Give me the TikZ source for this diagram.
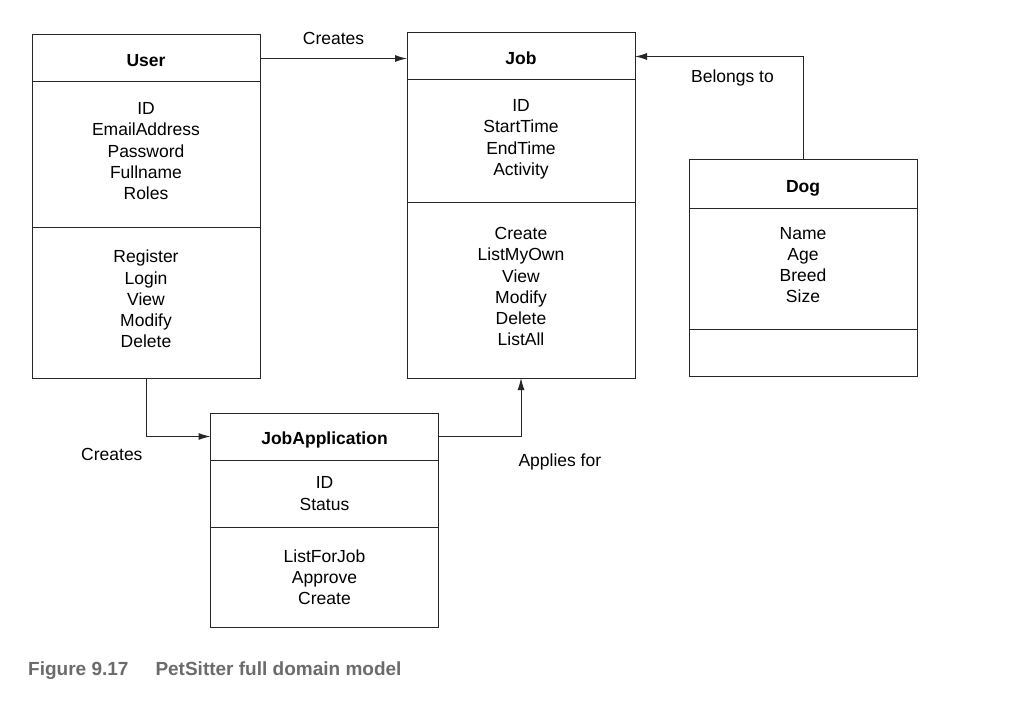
\documentclass[tikz,border=0pt]{standalone}
\usepackage{fontspec}
\setmainfont{Liberation Sans}
\usetikzlibrary{positioning,arrows.meta}
\definecolor{capgray}{HTML}{6B6B6B}
\tikzset{
	cls/.style={draw=black!85, line width=1pt, minimum width=228pt, inner sep=0pt, outer sep=0pt, align=center, text depth=7pt, font=\fontsize{17.5}{21.2}\selectfont},
	clshead/.style={cls, minimum height=47pt, text height=16pt, text depth=0pt, font=\fontsize{17.5}{21}\selectfont\bfseries},
	link/.style={draw=black!85, line width=1pt, -{Latex[length=12pt,width=7pt]}},
	lbl/.style={inner sep=0pt, font=\fontsize{17.5}{21}\selectfont}
}
\begin{document}
\begin{tikzpicture}[x=1pt,y=1pt]
	\useasboundingbox (0,0) rectangle (1016,-722);
	\node[clshead] (user) at (146,-58.5) {User};
	\node[cls, minimum height=145pt, below=0pt of user] (userattr) {ID\\EmailAddress\\Password\\Fullname\\Roles};
	\node[cls, minimum height=151pt, below=0pt of userattr] (userops) {Register\\Login\\View\\Modify\\Delete};
	\node[clshead] (job) at (521,-56.5) {Job};
	\node[cls, minimum height=122pt, below=0pt of job] (jobattr) {ID\\StartTime\\EndTime\\Activity};
	\node[cls, minimum height=176pt, below=0pt of jobattr] (jobops) {Create\\ListMyOwn\\View\\Modify\\Delete\\ListAll};
	\node[clshead, minimum height=48pt] (dog) at (803,-184) {Dog};
	\node[cls, minimum height=121pt, below=0pt of dog] (dogattr) {Name\\Age\\Breed\\Size};
	\node[cls, minimum height=47pt, below=0pt of dogattr] (dogops) {};
	\node[clshead] (jobapp) at (324.5,-436.5) {JobApplication};
	\node[cls, minimum height=67pt, text depth=0pt, below=0pt of jobapp] (jobappattr) {ID\\Status};
	\node[cls, minimum height=100pt, text depth=0pt, below=0pt of jobappattr] (jobappops) {ListForJob\\Approve\\Create};
	\draw[link] (user.east) -- (user.east -| job.west) node[lbl, midway, above=13pt] {Creates};
	\draw[link] (dog.north) |- (job.east) node[lbl, pos=0.71, below=13pt] {Belongs to};
	\draw[link] (userops.south) |- (jobapp.west) node[lbl, pos=0.5, below left=11.5pt and 3pt] {Creates};
	\draw[link] (jobapp.east) -| (jobops.south) node[lbl, pos=0.5, below right, xshift=-3pt, yshift=-16.5pt] {Applies for};
	\node[anchor=base west, inner sep=0pt, text=capgray, font=\fontsize{19}{22}\selectfont\bfseries] (caption) at (28,-675) {Figure 9.17\hspace{27pt}PetSitter full domain model};
\end{tikzpicture}
\end{document}
